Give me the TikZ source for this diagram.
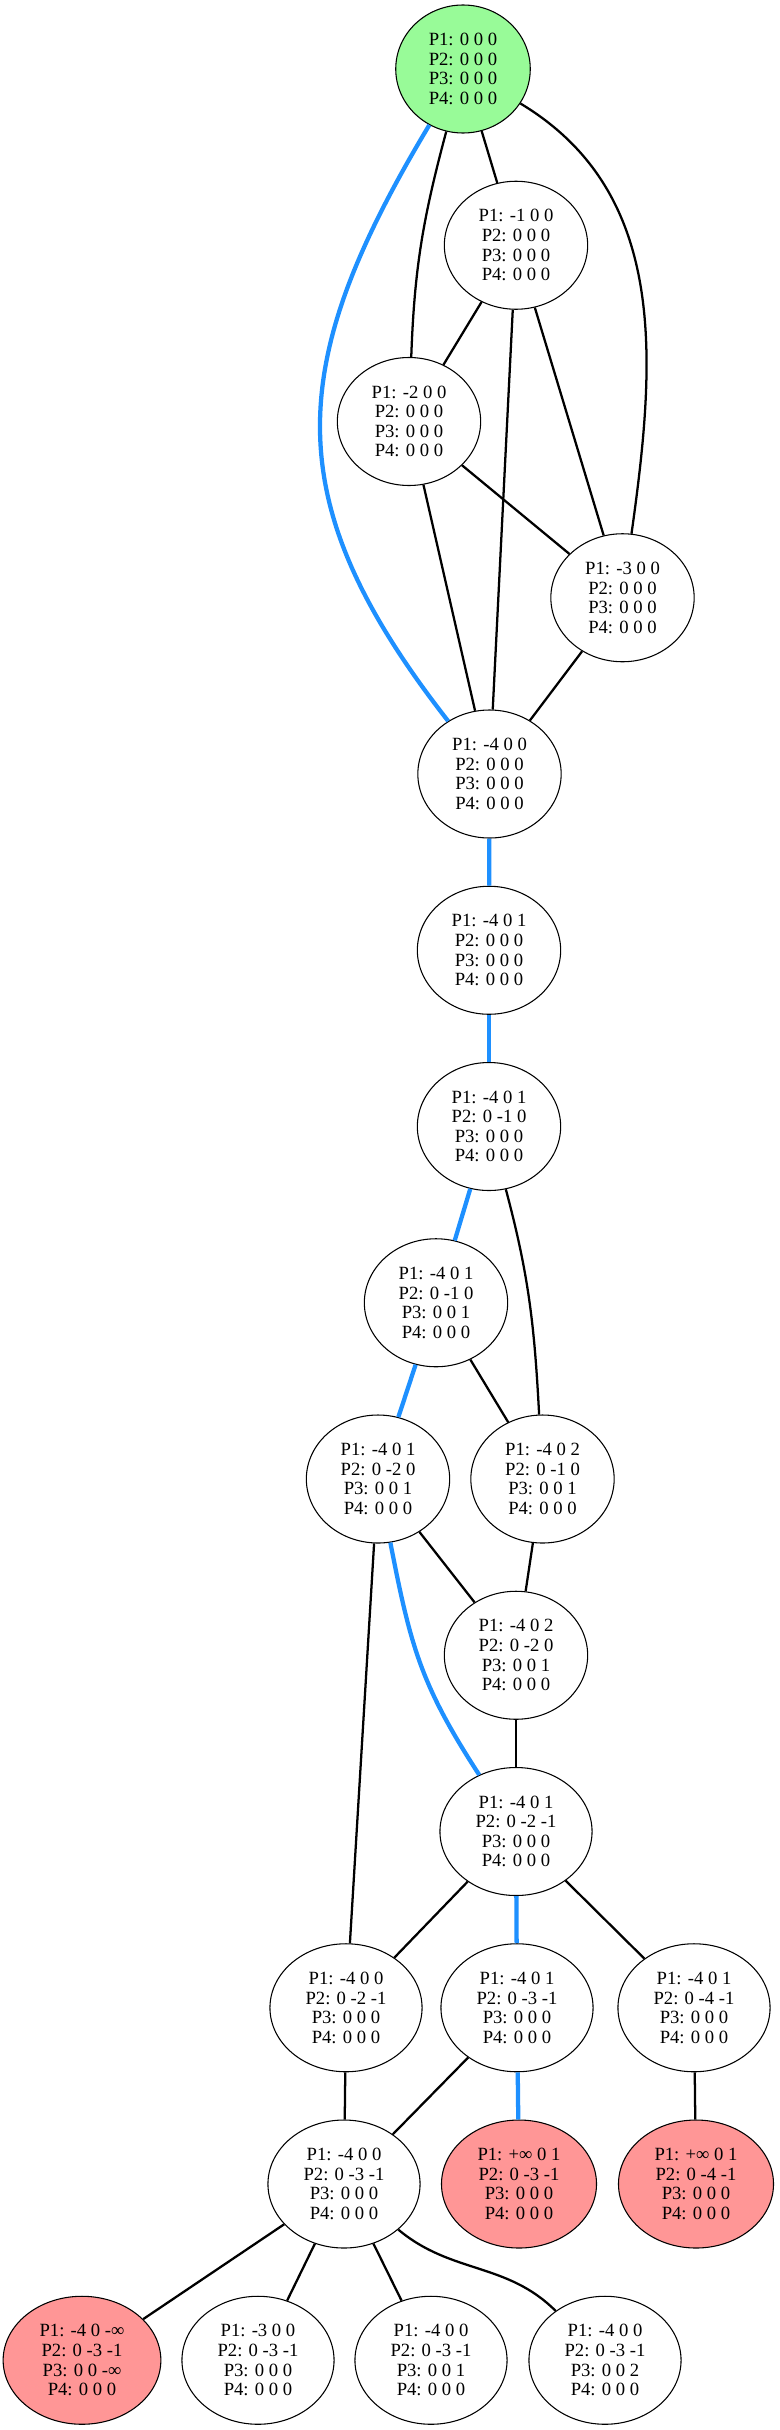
\documentclass[tikz,border=0pt]{standalone}
\usepackage{fontspec}
\setmainfont{Liberation Serif}
\usetikzlibrary{positioning, shapes.geometric}
\definecolor{stategreen}{RGB}{152,251,152}
\definecolor{statered}{RGB}{255,150,150}
\definecolor{pathblue}{RGB}{30,144,255}

\begin{document}
\begin{tikzpicture}[x=0.75pt, y=0.75pt,
    state/.style={ellipse, draw, line width=0.8pt, fill=white, align=center, inner xsep=10pt, inner ysep=2pt, minimum height=96pt, font=\fontsize{14}{14.7}\selectfont},
    rootstate/.style={state, fill=stategreen},
    deadstate/.style={state, fill=statered},
    link/.style={line width=1.7pt},
    best/.style={line width=3.2pt, pathblue}]
    \useasboundingbox (0,0) rectangle (779,-2430);
    \node[rootstate] (S0) at (463,-69) {P1: 0 0 0\\P2: 0 0 0\\P3: 0 0 0\\P4: 0 0 0};
    \node[state] (S1) at (516,-245.25) {P1: -1 0 0\\P2: 0 0 0\\P3: 0 0 0\\P4: 0 0 0};
    \node[state] (S2) at (409,-421.5) {P1: -2 0 0\\P2: 0 0 0\\P3: 0 0 0\\P4: 0 0 0};
    \node[state] (S3) at (622.5,-597.75) {P1: -3 0 0\\P2: 0 0 0\\P3: 0 0 0\\P4: 0 0 0};
    \node[state] (S4) at (489.5,-774) {P1: -4 0 0\\P2: 0 0 0\\P3: 0 0 0\\P4: 0 0 0};
    \node[state] (S5) at (489,-950.25) {P1: -4 0 1\\P2: 0 0 0\\P3: 0 0 0\\P4: 0 0 0};
    \node[state] (S6) at (489,-1126.5) {P1: -4 0 1\\P2: 0 -1 0\\P3: 0 0 0\\P4: 0 0 0};
    \node[state] (S7) at (436,-1302.75) {P1: -4 0 1\\P2: 0 -1 0\\P3: 0 0 1\\P4: 0 0 0};
    \node[state] (S8) at (378,-1479) {P1: -4 0 1\\P2: 0 -2 0\\P3: 0 0 1\\P4: 0 0 0};
    \node[state] (S9) at (542.5,-1479) {P1: -4 0 2\\P2: 0 -1 0\\P3: 0 0 1\\P4: 0 0 0};
    \node[state] (S10) at (516,-1655.25) {P1: -4 0 2\\P2: 0 -2 0\\P3: 0 0 1\\P4: 0 0 0};
    \node[state] (S11) at (516,-1831.5) {P1: -4 0 1\\P2: 0 -2 -1\\P3: 0 0 0\\P4: 0 0 0};
    \node[state] (S12) at (346,-2007.75) {P1: -4 0 0\\P2: 0 -2 -1\\P3: 0 0 0\\P4: 0 0 0};
    \node[state] (S13) at (517,-2007.75) {P1: -4 0 1\\P2: 0 -3 -1\\P3: 0 0 0\\P4: 0 0 0};
    \node[state] (S14) at (694,-2007.75) {P1: -4 0 1\\P2: 0 -4 -1\\P3: 0 0 0\\P4: 0 0 0};
    \node[state] (S15) at (344,-2184) {P1: -4 0 0\\P2: 0 -3 -1\\P3: 0 0 0\\P4: 0 0 0};
    \node[deadstate] (S16) at (519,-2184) {P1: +∞ 0 1\\P2: 0 -3 -1\\P3: 0 0 0\\P4: 0 0 0};
    \node[deadstate] (S17) at (696,-2184) {P1: +∞ 0 1\\P2: 0 -4 -1\\P3: 0 0 0\\P4: 0 0 0};
    \node[deadstate] (S18) at (82,-2360.25) {P1: -4 0 -∞\\P2: 0 -3 -1\\P3: 0 0 -∞\\P4: 0 0 0};
    \node[state] (S19) at (258,-2360.25) {P1: -3 0 0\\P2: 0 -3 -1\\P3: 0 0 0\\P4: 0 0 0};
    \node[state] (S20) at (431,-2360.25) {P1: -4 0 0\\P2: 0 -3 -1\\P3: 0 0 1\\P4: 0 0 0};
    \node[state] (S21) at (605,-2360.25) {P1: -4 0 0\\P2: 0 -3 -1\\P3: 0 0 2\\P4: 0 0 0};
    \draw[best] (S0) to[out=-121, in=128, looseness=1.2] (S4);
    \draw[link] (S0) -- (S1);
    \draw[link] (S0) to[out=-105, in=88] (S2);
    \draw[link] (S0) to[out=-31, in=82] (S3);
    \draw[link] (S1) -- (S2);
    \draw[link] (S1) -- (S3);
    \draw[link] (S1) -- (S4);
    \draw[link] (S2) -- (S3);
    \draw[link] (S2) -- (S4);
    \draw[link] (S3) -- (S4);
    \draw[best] (S4) -- (S5);
    \draw[best] (S5) -- (S6);
    \draw[best] (S6) -- (S7);
    \draw[link] (S6) to[out=-75, in=93] (S9);
    \draw[best] (S7) -- (S8);
    \draw[link] (S7) -- (S9);
    \draw[link] (S8) -- (S10);
    \draw[best] (S8) to[out=-79, in=123, looseness=1.1] (S11);
    \draw[link] (S8) -- (S12);
    \draw[link] (S9) -- (S10);
    \draw[link] (S10) -- (S11);
    \draw[link] (S11) -- (S12);
    \draw[best] (S11) -- (S13);
    \draw[link] (S11) -- (S14);
    \draw[link] (S12) -- (S15);
    \draw[link] (S13) -- (S15);
    \draw[best] (S13) -- (S16);
    \draw[link] (S14) -- (S17);
    \draw[link] (S15) -- (S18);
    \draw[link] (S15) -- (S19);
    \draw[link] (S15) -- (S20);
    \draw[link] (S15) to[out=-40, in=135] (S21);
\end{tikzpicture}
\end{document}
